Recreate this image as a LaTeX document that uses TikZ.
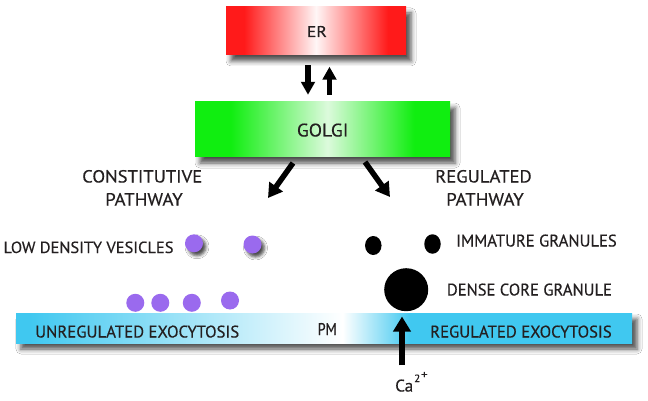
\documentclass[tikz,border=0pt]{standalone}
\usepackage{fontspec}
\usepackage{graphicx}
\setmainfont{PT Sans}[FakeBold=0.4]
\usetikzlibrary{arrows.meta,shadows.blur,shapes.geometric}
\definecolor{erred}{HTML}{FF1A1A}
\definecolor{ercenter}{HTML}{FFF6F6}
\definecolor{golgigreen}{HTML}{10EE10}
\definecolor{golgicenter}{HTML}{DCFADC}
\definecolor{pmcyan}{HTML}{40C8F0}
\definecolor{vesicle}{HTML}{9A6AEE}
\definecolor{txt}{HTML}{231F20}
\pgfdeclarehorizontalshading{ershade}{100bp}{color(0bp)=(erred); color(30bp)=(erred); color(50bp)=(ercenter); color(70bp)=(erred); color(100bp)=(erred)}
\pgfdeclarehorizontalshading{golgishade}{100bp}{color(0bp)=(golgigreen); color(32bp)=(golgigreen); color(51bp)=(golgicenter); color(68bp)=(golgigreen); color(100bp)=(golgigreen)}
\pgfdeclarehorizontalshading{pmshade}{100bp}{color(0bp)=(pmcyan); color(26bp)=(pmcyan); color(51.5bp)=(white); color(57bp)=(pmcyan); color(100bp)=(pmcyan)}
\newcommand{\rlab}[3]{\resizebox{#1}{#2}{#3}}
\begin{document}
\begin{tikzpicture}[x=1pt,y=-1pt,
  lbl/.style={font=\fontsize{14}{16}\selectfont, text=txt, inner sep=0pt, anchor=base west},
  shd/.style={blur shadow={shadow xshift=5pt, shadow yshift=-6pt, shadow blur radius=5pt, shadow opacity=70}},
  organelle/.style={shd, inner sep=0pt},
  bigarrow/.style={line width=5.5pt, -{Triangle[width=16pt,length=14pt]}},
  ves/.style={circle, fill=vesicle, minimum size=18pt, inner sep=0pt},
  vesshd/.style={ves, blur shadow={shadow xshift=3pt, shadow yshift=-3.5pt, shadow blur radius=3pt, shadow opacity=70}},
  gran/.style={fill=black, inner sep=0pt, ellipse}
]
\useasboundingbox[fill=white] (0,0) rectangle (648,401);

% organelles
\node[organelle, minimum width=180pt, minimum height=48pt, shading=ershade] (er) at (316,31) {};
\node[organelle, minimum width=255pt, minimum height=55pt, shading=golgishade] (golgi) at (322.5,129.5) {};
\node[organelle, minimum width=616pt, minimum height=30pt, shading=pmshade] (pm) at (324,328) {};

\node[lbl] (erlbl) at (306.7,37) {\rlab{20pt}{11pt}{ER}};
\node[lbl] (golgilbl) at (296.7,136.5) {\rlab{51.5pt}{13pt}{GOLGI}};
\node[lbl] (pmlbl) at (317.5,335) {\rlab{19pt}{12pt}{PM}};

% ER <-> Golgi
\draw[bigarrow, -{Triangle[width=13.5pt,length=13pt]}, shorten <=10pt, shorten >=7pt]
  ([xshift=-8pt]er.south) -- ([xshift=-8pt]er.south |- golgi.north);
\draw[bigarrow, -{Triangle[width=13.5pt,length=13pt]}, shorten <=7pt, shorten >=11.5pt]
  ([xshift=13.5pt]er.south |- golgi.north) -- ([xshift=13.5pt]er.south);

% pathways
\coordinate (cs) at (293,163);
\coordinate (ce) at (268,198);
\coordinate (rs) at (365,162);
\coordinate (re) at (390,197);
\draw[bigarrow] (cs) -- (ce);
\draw[bigarrow] (rs) -- (re);

\node[lbl] (const1) at (82,182.5) {\rlab{120pt}{12.5pt}{CONSTITUTIVE}};
\node[lbl] (const2) at (105,205.5) {\rlab{77.5pt}{12.5pt}{PATHWAY}};
\node[lbl] (reg1) at (435,182.5) {\rlab{96.5pt}{12.5pt}{REGULATED}};
\node[lbl] (reg2) at (446,205.5) {\rlab{77.5pt}{12.5pt}{PATHWAY}};

% constitutive vesicles
\node[lbl] (ldv) at (3.3,253) {\rlab{170pt}{11.5pt}{LOW DENSITY VESICLES}};
\node[vesshd] (v1) at (194,243.3) {};
\node[vesshd] (v2) at (252.5,244.5) {};
\node[ves] (v3) at (135.3,302.8) {};
\node[ves] (v4) at (160.3,302.8) {};
\node[ves] (v5) at (191.8,302.8) {};
\node[ves] (v6) at (230,300.5) {};

% regulated granules
\node[gran, minimum width=16.5pt, minimum height=19pt] (g1) at (373.3,245.5) {};
\node[gran, minimum width=16.5pt, minimum height=19.5pt] (g2) at (432.5,244) {};
\node[gran, minimum width=44pt, minimum height=43pt] (g3) at (406.2,289.7) {};
\node[lbl] (imm) at (456,246.5) {\rlab{160.5pt}{12pt}{IMMATURE GRANULES}};
\node[lbl] (dcg) at (446.7,295.5) {\rlab{165pt}{12pt}{DENSE CORE GRANULE}};

% PM labels
\node[lbl] (unreg) at (35,337.5) {\rlab{204pt}{12pt}{UNREGULATED EXOCYTOSIS}};
\node[lbl] (regexo) at (430,337.5) {\rlab{181.5pt}{12pt}{REGULATED EXOCYTOSIS}};

% calcium
\node[lbl] (ca) at (395,391.5) {\rlab{18pt}{12pt}{Ca}\hspace{1pt}\raisebox{9.5pt}{\rlab{6pt}{7.5pt}{2}}\hspace{1pt}\raisebox{13pt}{\rlab{6.5pt}{6.5pt}{+}}};
\coordinate (cat) at (402,316.5);
\draw[bigarrow, -{Triangle[width=17pt,length=15pt]}, shorten <=6.5pt] (cat |- ca.north) -- (cat);
\end{tikzpicture}
\end{document}
